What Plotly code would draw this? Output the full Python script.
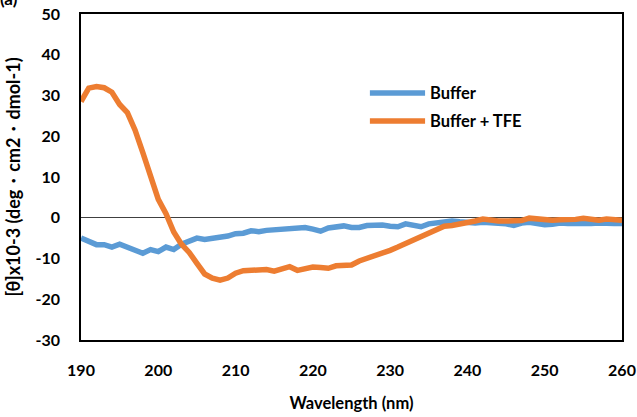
import plotly.graph_objects as go

# CD spectra, mean residue ellipticity ([θ] x 10^-3) vs wavelength
wavelength = list(range(190, 261))

buffer_only = [
    -5.0, -5.8, -6.6, -6.6, -7.2, -6.5, -7.2, -7.8, -8.7, -7.8,
    -8.3, -7.2, -7.8, -6.5, -5.8, -5.0, -5.3, -5.1, -5.0, -4.5,
    -3.9, -3.8, -3.2, -3.4, -3.1, -3.0, -3.0, -2.9, -2.8, -2.4,
    -2.8, -3.3, -2.5, -2.3, -2.0, -2.4, -2.4, -1.9, -1.8, -1.8,
    -2.1, -2.2, -1.5, -1.9, -2.2, -1.5, -1.2, -1.0, -0.8, -1.0,
    -1.3, -1.3, -1.1, -1.2, -1.4, -1.5, -1.9, -1.3, -1.1, -1.4,
    -1.7, -1.6, -1.3, -1.4, -1.5, -1.6, -1.4, -1.3, -1.5, -1.4,
    -1.4,
]

buffer_tfe = [
    28.5, 31.8, 32.2, 31.9, 30.8, 27.8, 25.8, 21.5, 16.0, 10.5,
    4.5, 1.0, -3.5, -6.5, -8.5, -11.2, -13.8, -14.8, -15.3, -14.8,
    -13.6, -13.0, -12.8, -12.9, -12.7, -13.1, -12.6, -12.0, -12.9, -12.4,
    -12.1, -12.2, -12.4, -11.8, -11.6, -11.6, -10.6, -10.0, -9.5, -8.8,
    -8.0, -7.2, -6.4, -5.5, -4.5, -3.9, -3.2, -2.1, -1.9, -1.6,
    -1.2, -0.8, -0.3, -0.7, -0.8, -0.8, -0.9, -0.7, -0.1, -0.3,
    -0.5, -0.6, -0.5, -0.6, -0.4, -0.1, -0.5, -0.6, -0.3, -0.4,
    -0.6,
]

series_names = ["Buffer", "Buffer + TFE"]
series_colors = ["#5B9BD5", "#ED7D31"]
x_ticks = [190, 200, 210, 220, 230, 240, 250, 260]
y_ticks = [-30, -20, -10, 0, 10, 20, 30, 40, 50]

FONT = "Lato, 'Open Sans', sans-serif"

fig = go.Figure()
for name, values, color in zip(series_names, [buffer_only, buffer_tfe], series_colors):
    fig.add_trace(go.Scatter(
        x=wavelength, y=values, mode="lines", name=name,
        line=dict(color=color, width=5.5), showlegend=False,
    ))

# legend drawn as line samples with labels
legend_y = [0.758, 0.672]
for name, color, ly in zip(series_names, series_colors, legend_y):
    fig.add_shape(type="line", xref="paper", yref="paper",
                  x0=0.534, x1=0.636, y0=ly, y1=ly,
                  line=dict(color=color, width=5.5))
    fig.add_annotation(text="<b>%s</b>" % name, xref="paper", yref="paper",
                       x=0.642, y=ly, xanchor="left", yanchor="middle",
                       showarrow=False, font=dict(size=16.5, color="black", family=FONT))

# panel label
fig.add_annotation(text="<b>(a)</b>", xref="paper", yref="paper",
                   x=0, y=1, xanchor="left", yanchor="middle",
                   xshift=-83, yshift=16, showarrow=False,
                   font=dict(size=17, color="black", family=FONT))

fig.update_layout(
    width=637, height=417,
    margin=dict(l=81, r=15, t=14, b=77),
    paper_bgcolor="white", plot_bgcolor="white",
    font=dict(family=FONT, size=16, color="black"),
)
fig.update_xaxes(
    range=[190, 260], tickvals=x_ticks,
    ticktext=["<b>%d</b>" % v for v in x_ticks],
    showgrid=False, zeroline=False, automargin=False,
    showline=True, linecolor="black", linewidth=1.5, mirror=True,
    ticks="", ticklabelstandoff=15,
    title=dict(text="<b>Wavelength (nm)</b>", font=dict(size=16.5), standoff=19),
)
fig.update_yaxes(
    range=[-30, 50], tickvals=y_ticks,
    ticktext=["<b>%d</b>" % v for v in y_ticks],
    showgrid=False, zeroline=True, zerolinecolor="#404040", zerolinewidth=1.3,
    showline=True, linecolor="black", linewidth=1.5, mirror=True, automargin=False,
    ticks="", ticklabelstandoff=16,
    title=dict(text="<b>[θ]x10-3 (deg・cm2・dmol-1)</b>", font=dict(size=18), standoff=10),
)

fig.write_html("out.html")
